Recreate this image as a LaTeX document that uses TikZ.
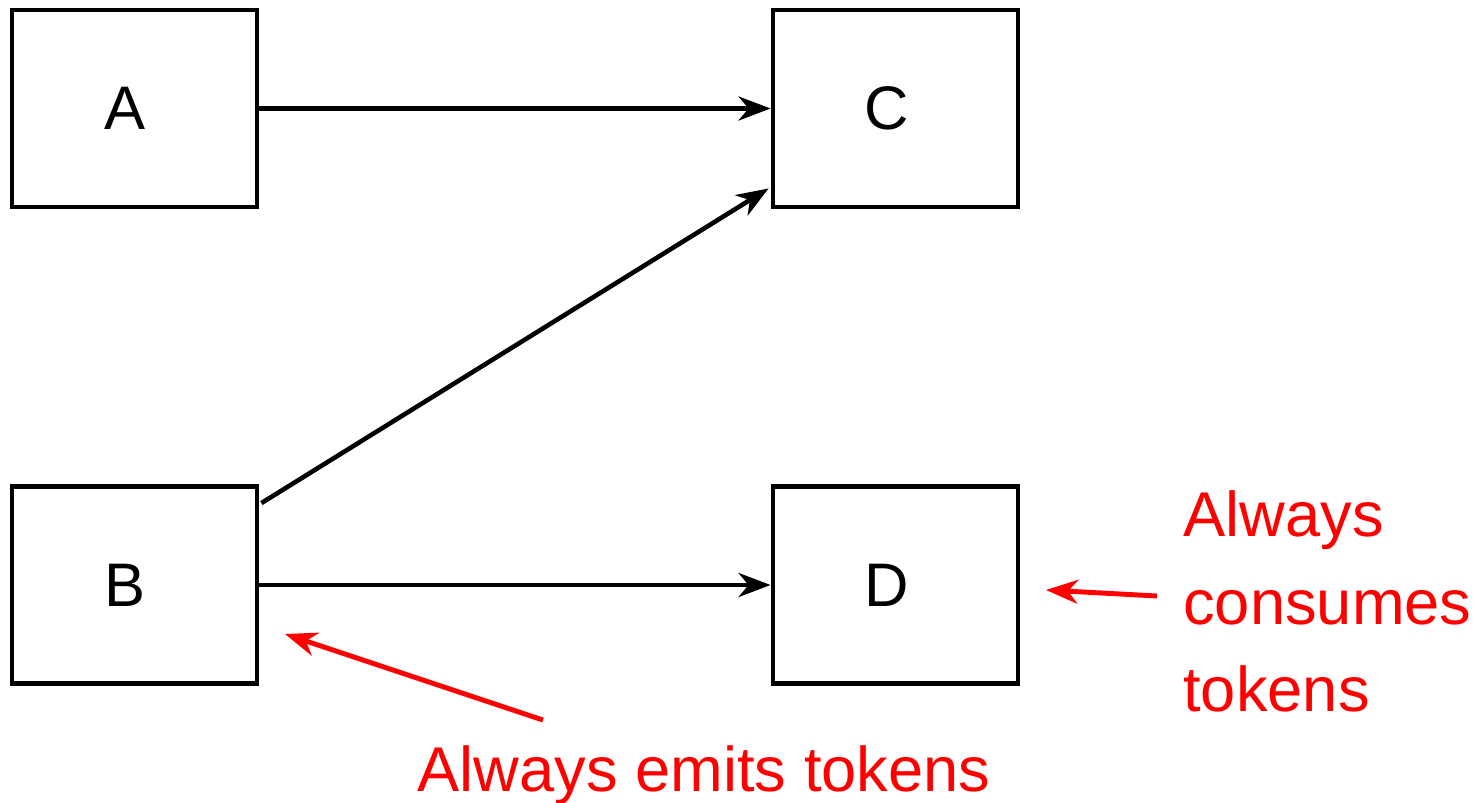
\documentclass[tikz,border=0pt]{standalone}
\usepackage{fontspec}
\setmainfont{Liberation Sans}
\usetikzlibrary{arrows.meta,calc}

\begin{document}
\begin{tikzpicture}[x=0.02cm,y=-0.02cm,
  >={Stealth[length=0.64cm,width=0.48cm,inset=0.2cm]},
  blk/.style={draw,line width=2.8pt,minimum width=4.9cm,minimum height=3.94cm,
    inner sep=0pt,font=\fontsize{35}{42}\selectfont},
  flow/.style={->,line width=2.6pt},
  note/.style={->,red,line width=2.8pt},
  notetext/.style={red,inner sep=0pt,font=\fontsize{36}{50}\selectfont}]

\useasboundingbox (0,0) rectangle (1480,802);

\node[blk] (a) at (134.5,108.5) {A\kern0.36cm};
\node[blk] (c) at (895.5,108.5) {C\kern0.36cm};
\node[blk] (b) at (134.5,585) {B\kern0.36cm};
\node[blk] (d) at (895.5,585) {D\kern0.36cm};

\draw[flow] (a) -- (c);
\draw[flow] ($(b.north east)+(2,19)$) -- ($(c.south west)+(-2,-21)$);
\draw[flow] (b) -- (d);

% notes
\node[notetext,anchor=base] (emits) at (704,791) {Always emits tokens};
\node[notetext,anchor=north west,align=left] (consumes) at (1183,490)
  {Always\\consumes\\tokens};

\coordinate (emitTail) at (543,720);
\coordinate (emitTip) at (285,634);
\coordinate (consTail) at (1157,596);
\coordinate (consTip) at (1046,590);

\draw[note] (emitTail) -- (emitTip);
\draw[note] (consTail) -- (consTip);

\end{tikzpicture}
\end{document}
